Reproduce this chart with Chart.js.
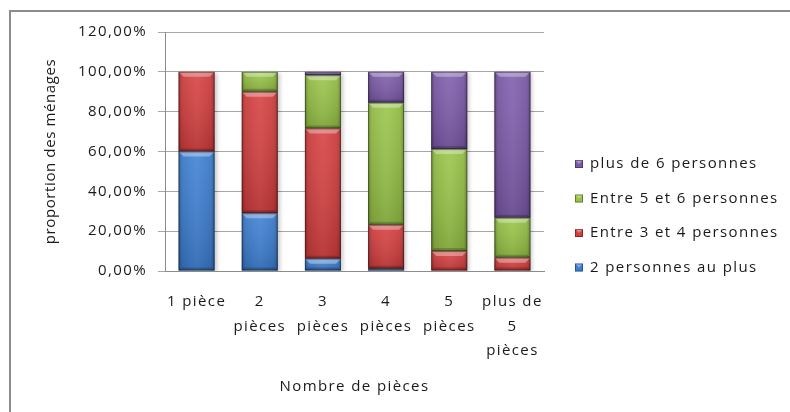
<!DOCTYPE html>
<html lang="fr">
<head>
<meta charset="utf-8">
<title>Proportion des ménages selon le nombre de pièces</title>
<script src="https://cdn.jsdelivr.net/npm/chart.js@4/dist/chart.umd.min.js"></script>
<style>
  html, body { margin: 0; padding: 0; background: #fff; }
  #wrap { position: relative; width: 790px; height: 412px; overflow: hidden; }
  #frame { position: absolute; left: 9px; top: 10px; width: 900px; height: 500px;
           border-top: 2px solid #8c8c8c; border-left: 2px solid #8c8c8c; }
  #c { position: absolute; left: 0; top: 0; }
</style>
</head>
<body>
<div id="wrap">
  <div id="frame"></div>
  <canvas id="c" width="790" height="412"></canvas>
</div>
<script>
// Nombre de pièces du logement
const categories = ['1 pièce', ['2', 'pièces'], ['3', 'pièces'], ['4', 'pièces'], ['5', 'pièces'], ['plus de', '5', 'pièces']];

// Proportion des ménages (%) par taille de ménage
const deuxPersonnesAuPlus = [60.0, 29.0, 6.2, 1.1, 0.0, 0.0];
const entre3et4 = [40.0, 61.0, 65.4, 22.1, 10.0, 6.7];
const entre5et6 = [0.0, 10.0, 26.7, 61.3, 51.2, 20.0];
const plusDe6 = [0.0, 0.0, 1.7, 15.5, 38.8, 73.3];

const seriesNames = ['2 personnes au plus', 'Entre 3 et 4 personnes', 'Entre 5 et 6 personnes', 'plus de 6 personnes'];
const seriesColors = ['#3b7ed3', '#d63d3d', '#97c445', '#7c5aab'];

// Graduations de l'axe vertical
const yTicksMin = 0;
const yTicksMax = 120;
const yTicksStep = 20;

const FONT = '"Open Sans", "DejaVu Sans", sans-serif';
const TRACKING = '1.4px';
const TITLE_TRACKING = '0.6px';

// Texte légèrement espacé sur tout le graphique
const tracking = {
  id: 'tracking',
  beforeUpdate(chart) { chart.ctx.letterSpacing = TRACKING; },
  beforeDraw(chart) { chart.ctx.letterSpacing = TRACKING; }
};

// Relief des barres : côtés ombrés, biseau clair en haut, trait sombre
const bevel = {
  id: 'bevel',
  beforeDatasetsDraw(chart) {
    const ctx = chart.ctx;
    ctx.save();
    ctx.shadowColor = 'rgba(0,0,0,0.22)';
    ctx.shadowBlur = 4;
    ctx.shadowOffsetX = 2;
    ctx.shadowOffsetY = 1;
  },
  afterDatasetsDraw(chart) {
    const ctx = chart.ctx;
    ctx.restore();
    chart.data.datasets.forEach((ds, i) => {
      const meta = chart.getDatasetMeta(i);
      meta.data.forEach(bar => {
        const p = bar.getProps(['x', 'y', 'base', 'width'], true);
        const top = Math.min(p.y, p.base), bot = Math.max(p.y, p.base);
        const h = bot - top;
        if (h < 0.5) return;
        const l = p.x - p.width / 2, r = p.x + p.width / 2;
        const b = Math.min(5, h / 2);
        ctx.save();
        const g = ctx.createLinearGradient(l, 0, r, 0);
        g.addColorStop(0, 'rgba(0,0,0,0.30)');
        g.addColorStop(0.1, 'rgba(0,0,0,0.07)');
        g.addColorStop(0.5, 'rgba(255,255,255,0.05)');
        g.addColorStop(0.9, 'rgba(0,0,0,0.07)');
        g.addColorStop(1, 'rgba(0,0,0,0.30)');
        ctx.fillStyle = g;
        ctx.fillRect(l, top, p.width, h);
        const v = ctx.createLinearGradient(0, top, 0, bot);
        v.addColorStop(0, 'rgba(255,255,255,0.08)');
        v.addColorStop(1, 'rgba(0,0,0,0.14)');
        ctx.fillStyle = v;
        ctx.fillRect(l, top, p.width, h);
        ctx.beginPath();
        ctx.moveTo(l, top); ctx.lineTo(r, top); ctx.lineTo(r - b, top + b); ctx.lineTo(l + b, top + b);
        ctx.closePath();
        ctx.fillStyle = 'rgba(255,255,255,0.34)';
        ctx.fill();
        ctx.beginPath();
        ctx.moveTo(l, bot); ctx.lineTo(r, bot); ctx.lineTo(r - 3, bot - 3); ctx.lineTo(l + 3, bot - 3);
        ctx.closePath();
        ctx.fillStyle = 'rgba(0,0,0,0.18)';
        ctx.fill();
        ctx.strokeStyle = 'rgba(0,0,0,0.38)';
        ctx.lineWidth = 1;
        ctx.strokeRect(l + 0.5, top + 0.5, p.width - 1, h - 1);
        ctx.restore();
      });
    });
  }
};

// Légende à droite, dernière série en haut
const sideLegend = {
  id: 'sideLegend',
  afterDraw(chart) {
    const ctx = chart.ctx;
    const x0 = 575, y0 = 164, step = 34.5, box = 8;
    const n = chart.data.datasets.length;
    ctx.save();
    ctx.letterSpacing = TRACKING;
    for (let k = 0; k < n; k++) {
      const ds = chart.data.datasets[n - 1 - k];
      const cy = y0 + k * step;
      ctx.fillStyle = ds.backgroundColor;
      ctx.fillRect(x0, cy - box / 2, box, box);
      ctx.fillStyle = 'rgba(255,255,255,0.35)';
      ctx.beginPath();
      ctx.moveTo(x0, cy - box / 2); ctx.lineTo(x0 + box, cy - box / 2); ctx.lineTo(x0 + box / 2, cy);
      ctx.closePath(); ctx.fill();
      ctx.strokeStyle = 'rgba(0,0,0,0.35)';
      ctx.lineWidth = 1;
      ctx.strokeRect(x0 + 0.5, cy - box / 2 + 0.5, box - 1, box - 1);
      ctx.fillStyle = '#1a1a1a';
      ctx.font = '15px ' + FONT;
      ctx.textBaseline = 'middle';
      ctx.textAlign = 'left';
      ctx.fillText(ds.label, x0 + 15, cy);
    }
    ctx.restore();
  }
};

const datasets = [deuxPersonnesAuPlus, entre3et4, entre5et6, plusDe6].map((vals, i) => ({
  label: seriesNames[i],
  data: vals,
  backgroundColor: seriesColors[i],
  borderWidth: 0,
  barPercentage: 0.57,
  categoryPercentage: 1.0
}));

new Chart(document.getElementById('c'), {
  type: 'bar',
  data: { labels: categories, datasets },
  plugins: [tracking, bevel, sideLegend],
  options: {
    responsive: false,
    animation: false,
    layout: { padding: { left: 10, right: 246, top: 32, bottom: 16 } },
    plugins: { legend: { display: false }, tooltip: { enabled: false } },
    scales: {
      x: {
        stacked: true,
        grid: { display: false, drawTicks: false },
        border: { display: true, color: '#8c8c8c', width: 1 },
        ticks: {
          color: '#1a1a1a', padding: 19, maxRotation: 0, autoSkip: false,
          font: { family: FONT, size: 15, lineHeight: 1.63 }
        },
        title: {
          display: true, text: 'Nombre de pièces', color: '#1a1a1a',
          font: { family: FONT, size: 15, lineHeight: 1.2 }, padding: { top: 0, bottom: 0 }
        },
        afterFit(axis) { axis.height = 412 - 271 - 16; }
      },
      y: {
        stacked: true,
        min: yTicksMin, max: yTicksMax,
        grid: { color: '#a6a6a6', lineWidth: 1, tickLength: 7, drawTicks: true },
        border: { display: true, color: '#8c8c8c', width: 1 },
        ticks: {
          stepSize: yTicksStep, padding: 11, color: '#1a1a1a',
          font: { family: FONT, size: 15 },
          callback: v => v.toFixed(2).replace('.', ',') + '%'
        },
        title: {
          display: true, text: 'proportion des ménages', color: '#1a1a1a',
          font: { family: FONT, size: 15, lineHeight: 1.2 }, padding: { top: 32, bottom: 0 }
        },
        afterFit(axis) {
          axis.width = 165 - 10;
          // titre vertical moins espacé que le reste du texte
          if (!axis._titleTracked) {
            const drawTitle = axis.drawTitle;
            axis.drawTitle = function () {
              const ctx = this.ctx;
              ctx.save();
              ctx.letterSpacing = TITLE_TRACKING;
              drawTitle.call(this);
              ctx.restore();
            };
            axis._titleTracked = true;
          }
        }
      }
    }
  }
});
</script>
</body>
</html>
